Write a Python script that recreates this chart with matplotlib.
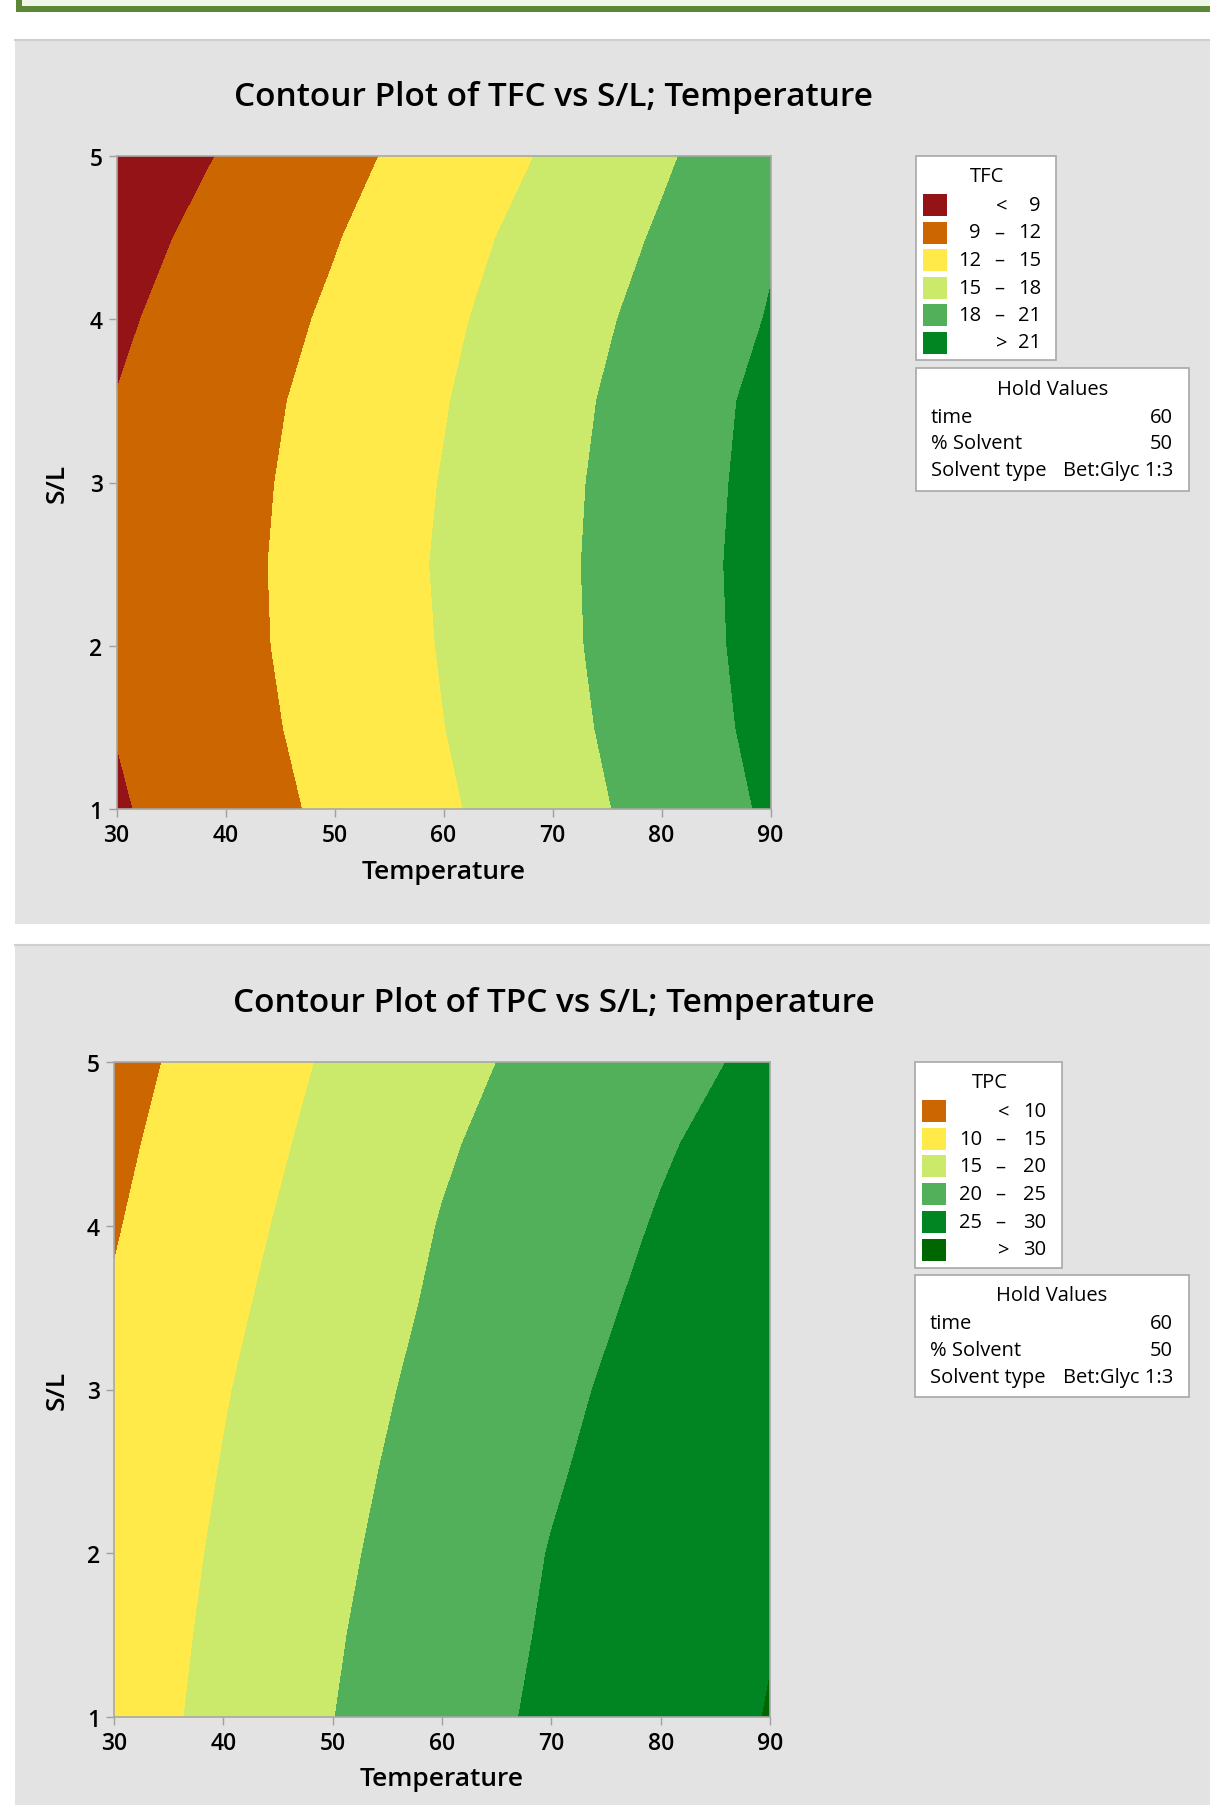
import numpy as np
import matplotlib
matplotlib.use("Agg")
import matplotlib.pyplot as plt
from matplotlib.patches import Rectangle

plt.rcParams['font.family'] = ['Open Sans', 'DejaVu Sans']

# Gitter: Temperatur (Spalten) und S/L (Zeilen)
temperature = [30, 40, 50, 60, 70, 80, 90]
sl_ratio = [1.0, 1.5, 2.0, 2.5, 3.0, 3.5, 4.0, 4.5, 5.0]

# TFC-Werte (Zeile = S/L, Spalte = Temperatur)
tfc = [
    [8.71, 10.62, 12.57, 14.61, 16.77, 19.03, 21.38],
    [9.08, 10.96, 12.92, 14.96, 17.12, 19.40, 21.75],
    [9.25, 11.18, 13.14, 15.15, 17.34, 19.62, 21.92],
    [9.27, 11.22, 13.22, 15.26, 17.40, 19.67, 22.00],
    [9.19, 11.11, 13.08, 15.11, 17.30, 19.57, 21.88],
    [9.06, 10.91, 12.83, 14.86, 17.07, 19.37, 21.73],
    [8.58, 10.48, 12.40, 14.48, 16.67, 18.90, 21.16],
    [8.00, 9.92, 11.85, 13.97, 16.12, 18.30, 20.75],
    [7.21, 9.19, 11.16, 13.22, 15.36, 17.64, 19.95],
]

# TPC-Werte
tpc = [
    [12.63, 16.33, 19.93, 22.92, 25.89, 27.91, 30.16],
    [12.28, 16.02, 19.61, 22.59, 25.49, 27.71, 29.85],
    [11.89, 15.64, 19.18, 22.24, 25.15, 27.50, 29.70],
    [11.43, 15.19, 18.71, 21.78, 24.59, 27.09, 29.40],
    [10.94, 14.72, 18.16, 21.28, 24.06, 26.57, 28.95],
    [10.36, 14.13, 17.54, 20.69, 23.40, 25.95, 28.28],
    [9.70, 13.49, 16.96, 20.18, 22.76, 25.30, 27.57],
    [9.07, 12.79, 16.30, 19.52, 22.11, 24.60, 26.83],
    [8.41, 12.05, 15.59, 18.67, 21.33, 23.67, 25.90],
]

tfc_levels = [9, 12, 15, 18, 21]
tfc_colors = ['#931316', '#CC6600', '#FFEA4A', '#CBE96B', '#53B05A', '#008522']
tpc_levels = [10, 15, 20, 25, 30]
tpc_colors = ['#CC6600', '#FFEA4A', '#CBE96B', '#53B05A', '#008522', '#006600']

hold_names = ['time', '% Solvent', 'Solvent type']
hold_values = ['60', '50', 'Bet:Glyc 1:3']

W, H = 1210, 1806
fig = plt.figure(figsize=(W / 100, H / 100), dpi=100)
fig.patch.set_facecolor('white')

# Hintergrund-Achse in Pixelkoordinaten
bg = fig.add_axes([0, 0, 1, 1], zorder=-1)
bg.set_xlim(0, W)
bg.set_ylim(H, 0)
bg.axis('off')

# gruener Rahmen oben
bg.add_patch(Rectangle((22, 0), W, 6.7, facecolor='#EEF6E8', edgecolor='none'))
bg.add_patch(Rectangle((16, 6.7), W, 6.6, facecolor='#5B8737', edgecolor='none'))
bg.add_patch(Rectangle((16, 0), 6, 13.3, facecolor='#5B8737', edgecolor='none'))

# graue Panels
for top, bottom in [(40, 925), (945, 1810)]:
    bg.add_patch(Rectangle((15, top), W, bottom - top, facecolor='#E3E3E3', edgecolor='none'))
    bg.plot([15, W], [top + 0.5, top + 0.5], color='#CFCFCF', lw=1.5)


def px_rect(x0, y0, x1, y1):
    return [x0 / W, 1 - y1 / H, (x1 - x0) / W, (y1 - y0) / H]


def contour_panel(z, levels, colors, name, ax_box, title_y, label_y):
    ax = fig.add_axes(px_rect(*ax_box))
    bounds = [-1000] + levels + [1000]
    ax.contourf(temperature, sl_ratio, np.array(z), levels=bounds, colors=colors)
    ax.set_xlim(30, 90)
    ax.set_ylim(1, 5)
    ax.set_xticks([30, 40, 50, 60, 70, 80, 90])
    ax.set_yticks([1, 2, 3, 4, 5])
    ax.tick_params(direction='out', length=6, width=1, color='#A0A0A0',
                   labelsize=16.5, pad=4)
    for lab in ax.get_xticklabels() + ax.get_yticklabels():
        lab.set_fontweight('semibold')
    for sp in ax.spines.values():
        sp.set_color('#A8A8A8')
        sp.set_linewidth(1.2)

    x0, y0, x1, y1 = ax_box
    bg.text(554, title_y, 'Contour Plot of %s vs S/L; Temperature' % name,
            fontsize=24, fontweight='semibold', ha='center', va='center')
    bg.text((x0 + x1) / 2, label_y, 'Temperature', fontsize=19,
            fontweight='semibold', ha='center', va='center')
    bg.text(57, (y0 + y1) / 2, 'S/L', fontsize=19, fontweight='semibold',
            ha='center', va='center', rotation=90)
    return ax


def legend_box(name, levels, colors, box, rows_y, xs):
    bx0, by0, bx1, by1 = box
    bg.add_patch(Rectangle((bx0, by0), bx1 - bx0, by1 - by0, facecolor='white',
                           edgecolor='#A8A8A8', lw=1.2))
    bg.text((bx0 + bx1) / 2 + 1, by0 + 20, name, fontsize=14.5, ha='center', va='center')
    left_r, dash_c, right_r, sign_c = xs
    labels = []
    labels.append(('<', None, str(levels[0])))
    for a, b in zip(levels[:-1], levels[1:]):
        labels.append((None, str(a), str(b)))
    labels.append(('>', None, str(levels[-1])))
    for i, (col, lab) in enumerate(zip(colors, labels)):
        yc = rows_y[0] + i * rows_y[1]
        bg.add_patch(Rectangle((bx0 + 7, yc - 11), 24, 22, facecolor=col, edgecolor='none'))
        sign, lo, hi = lab
        if sign:
            bg.text(sign_c, yc, sign, fontsize=14.5, ha='center', va='center')
        else:
            bg.text(left_r, yc, lo, fontsize=14.5, ha='right', va='center')
            bg.text(dash_c, yc, '–', fontsize=14.5, ha='center', va='center')
        bg.text(right_r, yc, hi, fontsize=14.5, ha='right', va='center')


def hold_box(box, title_y, rows_y):
    bx0, by0, bx1, by1 = box
    bg.add_patch(Rectangle((bx0, by0), bx1 - bx0, by1 - by0, facecolor='white',
                           edgecolor='#A8A8A8', lw=1.2))
    bg.text((bx0 + bx1) / 2, title_y, 'Hold Values', fontsize=14.5, ha='center', va='center')
    for i, (n, v) in enumerate(zip(hold_names, hold_values)):
        yc = rows_y[0] + i * rows_y[1]
        bg.text(bx0 + 15, yc, n, fontsize=14.5, ha='left', va='center')
        bg.text(bx1 - 16, yc, v, fontsize=14.5, ha='right', va='center')


# Panel 1: TFC
contour_panel(tfc, tfc_levels, tfc_colors, 'TFC', (116.5, 157, 770.5, 810), 98, 873)
legend_box('TFC', tfc_levels, tfc_colors, (916, 157, 1056, 361), (206, 27.5),
           (981, 999, 1041, 1002))
hold_box((916, 369, 1189, 492), 390, (418, 26.5))

# Panel 2: TPC
contour_panel(tpc, tpc_levels, tpc_colors, 'TPC', (114, 1063, 770, 1718), 1004, 1780)
legend_box('TPC', tpc_levels, tpc_colors, (915, 1063, 1062, 1269), (1112, 27.7),
           (982, 1000, 1046, 1004))
hold_box((915, 1276, 1189, 1398), 1296, (1324, 27))

fig.savefig('out.png', dpi=100)
